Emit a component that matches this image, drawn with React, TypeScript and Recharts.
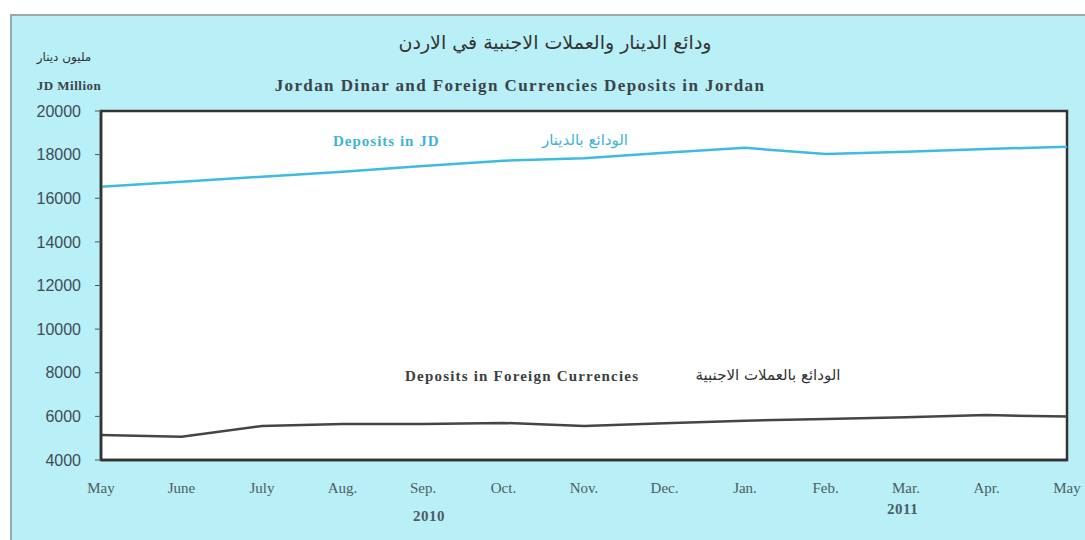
import React from "react";
import { LineChart, Line, XAxis, YAxis, ReferenceArea } from "recharts";

// monthly points, May 2010 .. May 2011 (JD million)
const months = ["May", "June", "July", "Aug.", "Sep.", "Oct.", "Nov.", "Dec.", "Jan.", "Feb.", "Mar.", "Apr.", "May"];
const periods = ["2010-05", "2010-06", "2010-07", "2010-08", "2010-09", "2010-10", "2010-11", "2010-12", "2011-01", "2011-02", "2011-03", "2011-04", "2011-05"];
const depositsJD = [16530, 16760, 16990, 17220, 17480, 17720, 17830, 18090, 18310, 18030, 18130, 18260, 18360];
const depositsFX = [5150, 5070, 5560, 5650, 5650, 5700, 5560, 5680, 5800, 5880, 5960, 6060, 5990];
const yTicks = [4000, 6000, 8000, 10000, 12000, 14000, 16000, 18000, 20000];

const data = periods.map((p, i) => ({ p, jd: depositsJD[i], fx: depositsFX[i] }));

const serif = "'Liberation Serif', 'DejaVu Serif', serif";
const sans = "'Liberation Sans', Arial, sans-serif";
const arabic = "'DejaVu Sans', sans-serif";

const abs = (left: number, top: number, extra: React.CSSProperties = {}): React.CSSProperties => ({
  position: "absolute",
  left,
  top,
  whiteSpace: "nowrap",
  ...extra,
});

export default function App() {
  return (
    <div style={{ position: "absolute", left: 0, top: 0, width: 1085, height: 540, background: "#fff", overflow: "hidden" }}>
      <div
        style={{
          position: "absolute",
          left: 10,
          top: 14,
          right: -4,
          bottom: -4,
          background: "#b9eff6",
          borderTop: "2px solid #9aa",
          borderLeft: "2px solid #9aa",
        }}
      />
      <div style={{ position: "absolute", left: 0, top: 0 }}>
        <LineChart width={1085} height={540} data={data} margin={{ top: 111, right: 18, bottom: 50, left: 0 }}>
          <XAxis
            dataKey="p"
            tickFormatter={(_v: string, i: number) => months[i]}
            interval={0}
            axisLine={{ stroke: "#333", strokeWidth: 2.5 }}
            tickLine={false}
            tickMargin={16}
            height={30}
            tick={{ fontFamily: serif, fontSize: 15, fill: "#4d5d63" }}
          />
          <YAxis
            domain={[4000, 20000]}
            ticks={yTicks}
            width={101}
            axisLine={{ stroke: "#333", strokeWidth: 2.5 }}
            tickLine={{ stroke: "#555" }}
            tickSize={6}
            tickMargin={14}
            tick={{ fontFamily: sans, fontSize: 16, fill: "#3d4c56" }}
          />
          <ReferenceArea
            x1={periods[0]}
            x2={periods[periods.length - 1]}
            y1={4000}
            y2={20000}
            fill="#fff"
            fillOpacity={1}
            stroke="#333"
            strokeWidth={2.5}
          />
          <Line type="linear" dataKey="jd" stroke="#3dbbe3" strokeWidth={2.5} dot={false} isAnimationActive={false} />
          <Line type="linear" dataKey="fx" stroke="#454545" strokeWidth={2.5} dot={false} isAnimationActive={false} />
        </LineChart>
      </div>

      <div style={abs(380, 31, { fontFamily: arabic, fontSize: 19, color: "#333", direction: "rtl", width: 350, textAlign: "center" })}>
        ودائع الدينار والعملات الاجنبية في الاردن
      </div>
      <div style={abs(200, 76, { fontFamily: serif, fontSize: 17, fontWeight: "bold", color: "#3a4448", width: 640, textAlign: "center", letterSpacing: 1.4 })}>
        Jordan Dinar and Foreign Currencies Deposits in Jordan
      </div>
      <div style={abs(26, 50, { fontFamily: arabic, fontSize: 12, color: "#333", direction: "rtl", width: 76, textAlign: "center" })}>
        مليون دينار
      </div>
      <div style={abs(26, 78, { fontFamily: serif, fontSize: 13, fontWeight: "bold", color: "#3a4448", width: 86, textAlign: "center", letterSpacing: 0.5 })}>
        JD Million
      </div>

      <div style={abs(333, 133, { fontFamily: serif, fontSize: 15, fontWeight: "bold", color: "#3fb3d9", letterSpacing: 1 })}>
        Deposits in JD
      </div>
      <div style={abs(525, 131, { fontFamily: arabic, fontSize: 15, color: "#3fb3d9", direction: "rtl", width: 120, textAlign: "center" })}>
        الودائع بالدينار
      </div>
      <div style={abs(405, 368, { fontFamily: serif, fontSize: 15, fontWeight: "bold", color: "#3a3f42", letterSpacing: 1.2 })}>
        Deposits in Foreign Currencies
      </div>
      <div style={abs(680, 366, { fontFamily: arabic, fontSize: 15, color: "#333", direction: "rtl", width: 176, textAlign: "center" })}>
        الودائع بالعملات الاجنبية
      </div>

      <div style={abs(413, 508, { fontFamily: serif, fontSize: 15, fontWeight: "bold", color: "#4d5d63", letterSpacing: 0.5 })}>2010</div>
      <div style={abs(887, 501, { fontFamily: serif, fontSize: 15, fontWeight: "bold", color: "#4d5d63", letterSpacing: 0.5 })}>2011</div>
    </div>
  );
}
